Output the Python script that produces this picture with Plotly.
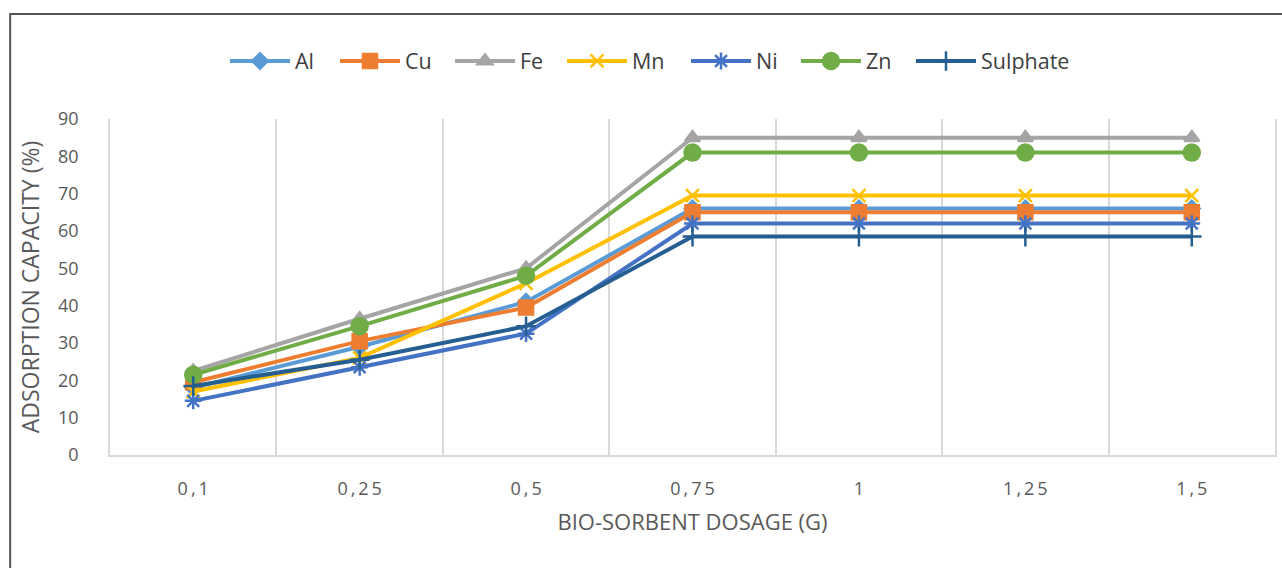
import plotly.graph_objects as go

# Bio-sorbent dosage (g) categories and adsorption capacity (%) per species
dosage = ["0,1", "0,25", "0,5", "0,75", "1", "1,25", "1,5"]
al = [18, 29, 41, 66, 66, 66, 66]
cu = [19.5, 30.5, 39.5, 65, 65, 65, 65]
fe = [22.5, 36.5, 50, 85, 85, 85, 85]
mn = [17, 26, 46, 69.5, 69.5, 69.5, 69.5]
ni = [14.5, 23.5, 32.5, 62, 62, 62, 62]
zn = [21.5, 34.5, 48, 81, 81, 81, 81]
sulphate = [18.5, 25.5, 34.5, 58.5, 58.5, 58.5, 58.5]

series = [
    ("Al", al, "#5B9BD5", "diamond", 12),
    ("Cu", cu, "#ED7D31", "square", 14),
    ("Fe", fe, "#A5A5A5", "triangle-up", 13),
    ("Mn", mn, "#FFC000", "x-thin-open", 13),
    ("Ni", ni, "#4472C4", "asterisk-open", 14),
    ("Zn", zn, "#70AD47", "circle", 16),
    ("Sulphate", sulphate, "#255E91", "cross-thin-open", 14),
]

# left edge (px) of each legend entry along the top row
legend_left = [225, 335, 450, 562, 686, 796, 911]

W, H = 1282, 568
L, R, T, B = 110, 5, 119, 113

fig = go.Figure()
legend_layouts = {}
for i, ((name, vals, color, symbol, size), lx) in enumerate(zip(series, legend_left)):
    lid = f"legend{i + 2}"
    fig.add_trace(go.Scatter(
        x=dosage, y=vals, name=name, mode="lines+markers", legend=lid,
        line=dict(color=color, width=4),
        marker=dict(symbol=symbol, size=size, color=color,
                    line=dict(color=color, width=2.5)),
    ))
    legend_layouts[lid] = dict(
        orientation="h", xref="container", x=lx / W, xanchor="left",
        yref="container", y=1 - 61 / H, yanchor="middle",
        font=dict(family="Open Sans", size=21.5, color="#404040"),
        itemwidth=60, bgcolor="rgba(0,0,0,0)",
    )

grid = "#D9D9D9"
txt = "#595959"

# spaced-out category labels on the dosage axis
THIN = "\u2009"
tick_text = [THIN.join(list(s)) for s in dosage]

fig.update_layout(
    width=W, height=H,
    margin=dict(l=L, r=R, t=T, b=B),
    paper_bgcolor="white", plot_bgcolor="white",
    font=dict(family="Open Sans", size=18, color=txt),
    showlegend=True,
    xaxis=dict(type="category", tickson="boundaries", showgrid=True,
               gridcolor=grid, gridwidth=1.5, ticks="", showline=True,
               linecolor=grid, linewidth=2, zeroline=False,
               range=[-0.5, 6.5], ticklabelstandoff=16,
               tickmode="array", tickvals=dosage, ticktext=tick_text,
               title=dict(text="BIO-SORBENT DOSAGE (G)", standoff=16,
                          font=dict(size=22, color=txt))),
    yaxis=dict(range=[0, 90], tickvals=list(range(0, 91, 10)),
               showgrid=False, zeroline=False, showline=True, mirror=True,
               linecolor=grid, linewidth=1.5, ticks="",
               ticklabelstandoff=26,
               title=dict(text="ADSORPTION CAPACITY (%)", standoff=12,
                          font=dict(size=23, color=txt))),
    **legend_layouts,
)

# Chart frame: top and left border lines
pw, ph = W - L - R, H - T - B
def px(xp):
    return (xp - L) / pw
def py(yp):
    return (H - B - yp) / ph

frame = "#555555"
fig.add_shape(type="line", xref="paper", yref="paper",
              x0=px(10), x1=px(W + 5), y0=py(14), y1=py(14),
              line=dict(color=frame, width=2))
fig.add_shape(type="line", xref="paper", yref="paper",
              x0=px(10), x1=px(10), y0=py(13), y1=py(H + 5),
              line=dict(color=frame, width=2))

fig.write_html("out.html")
